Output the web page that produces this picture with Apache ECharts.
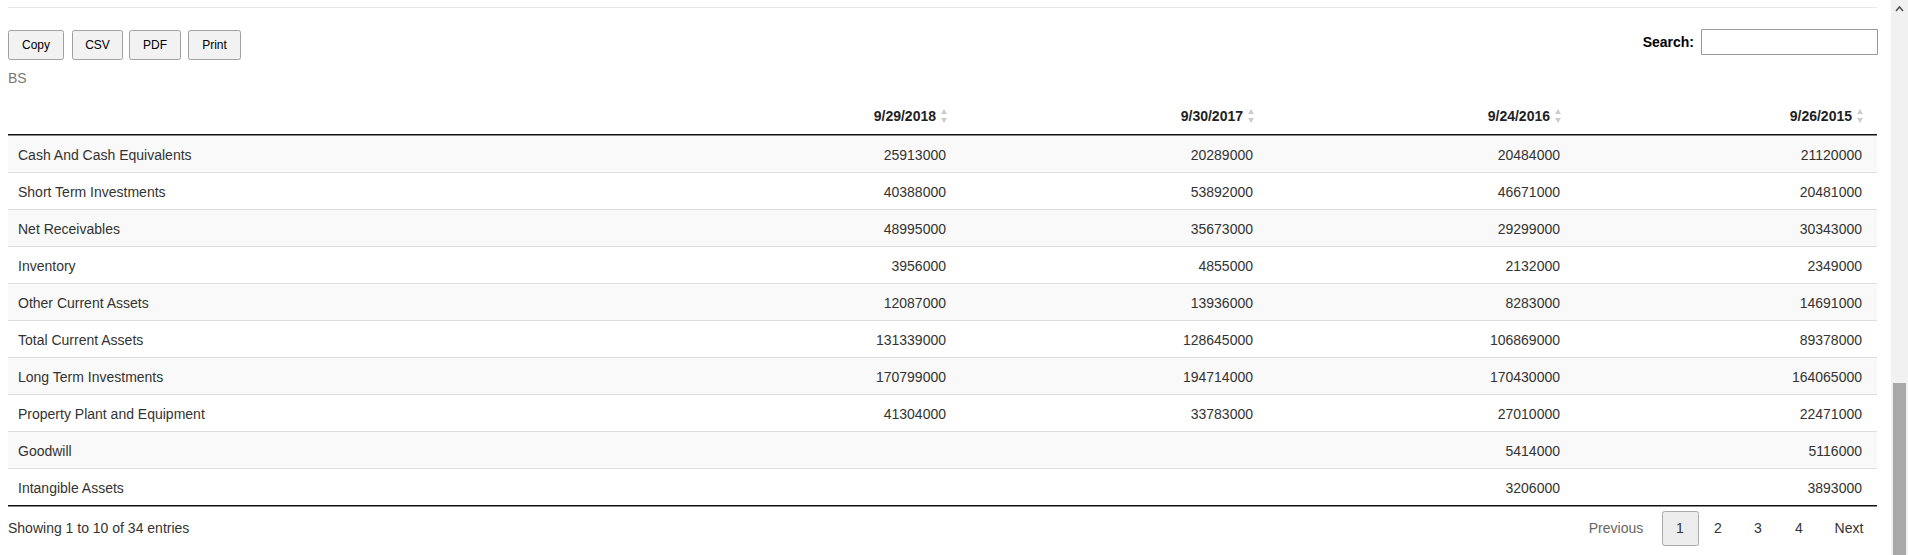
<!DOCTYPE html>
<html><head><meta charset="utf-8">
<script src="https://cdn.jsdelivr.net/npm/echarts@6/dist/echarts.min.js"></script>
<style>html,body{margin:0;padding:0;background:#fff;overflow:hidden}#c{width:1908px;height:555px}</style>
</head><body><div id="c"></div>
<script>
var rowLabels = ['Cash And Cash Equivalents','Short Term Investments','Net Receivables','Inventory','Other Current Assets','Total Current Assets','Long Term Investments','Property Plant and Equipment','Goodwill','Intangible Assets'];
var columns = ['9/29/2018','9/30/2017','9/24/2016','9/26/2015'];
var v2018 = ['25913000','40388000','48995000','3956000','12087000','131339000','170799000','41304000','',''];
var v2017 = ['20289000','53892000','35673000','4855000','13936000','128645000','194714000','33783000','',''];
var v2016 = ['20484000','46671000','29299000','2132000','8283000','106869000','170430000','27010000','5414000','3206000'];
var v2015 = ['21120000','20481000','30343000','2349000','14691000','89378000','164065000','22471000','5116000','3893000'];
var buttons = ['Copy','CSV','PDF','Print'];
var pages = ['1','2','3','4'];

var F = 'Liberation Sans, Arial, sans-serif';
var series = [v2018, v2017, v2016, v2015];
var colRight = [946, 1253, 1560, 1862];
var L = 8, R = 1877, top0 = 135, rh = 37;
var g = [];
g.push({type:'rect',shape:{x:L,y:7,width:R-L,height:1},style:{fill:'#e8e8e8'}});
var bx = [[8,55],[72,50],[129,51],[188,52]];
buttons.forEach(function(b,i){
  g.push({type:'rect',shape:{x:bx[i][0]+0.5,y:30.5,width:bx[i][1],height:29,r:2},style:{fill:'#f2f2f2',stroke:'#a0a0a0',lineWidth:1}});
  g.push({type:'text',x:bx[i][0]+bx[i][1]/2+0.5,y:45,style:{text:b,font:'12px '+F,fill:'#000',align:'center',verticalAlign:'middle'}});
});
g.push({type:'text',x:L,y:78,style:{text:'BS',font:'14px '+F,fill:'#777',verticalAlign:'middle'}});
g.push({type:'text',x:1694,y:42,style:{text:'Search:',font:'bold 14px '+F,fill:'#000',align:'right',verticalAlign:'middle'}});
g.push({type:'rect',shape:{x:1701.5,y:29.5,width:176,height:25},style:{fill:'#fff',stroke:'#999',lineWidth:1}});
columns.forEach(function(c,i){
  g.push({type:'text',x:colRight[i]-10,y:116,style:{text:c,font:'bold 14px '+F,fill:'#222',align:'right',verticalAlign:'middle'}});
  g.push({type:'polygon',shape:{points:[[colRight[i]-5,114],[colRight[i]+1,114],[colRight[i]-2,109]]},style:{fill:'#ccc'}});
  g.push({type:'polygon',shape:{points:[[colRight[i]-5,118],[colRight[i]+1,118],[colRight[i]-2,123]]},style:{fill:'#ccc'}});
});
rowLabels.forEach(function(lab,r){
  var y = top0 + r*rh;
  if(r%2===0) g.push({type:'rect',shape:{x:L,y:y,width:R-L,height:rh},style:{fill:'#f9f9f9'}});
  if(r>0) g.push({type:'rect',shape:{x:L,y:y,width:R-L,height:1},style:{fill:'#ddd'}});
  g.push({type:'text',x:18,y:y+rh/2+1,style:{text:lab,font:'14px '+F,fill:'#333',verticalAlign:'middle'}});
  series.forEach(function(s,i){
    if(s[r]) g.push({type:'text',x:colRight[i],y:y+rh/2+1,style:{text:s[r],font:'14px '+F,fill:'#333',align:'right',verticalAlign:'middle'}});
  });
});
g.push({type:'rect',shape:{x:L,y:top0-1,width:R-L,height:1.5},style:{fill:'#111'}});
g.push({type:'rect',shape:{x:L,y:top0+rh*rowLabels.length,width:R-L,height:1.5},style:{fill:'#111'}});
g.push({type:'text',x:L,y:528,style:{text:'Showing 1 to 10 of 34 entries',font:'14px '+F,fill:'#333',verticalAlign:'middle'}});
g.push({type:'text',x:1616,y:528,style:{text:'Previous',font:'14px '+F,fill:'#666',align:'center',verticalAlign:'middle'}});
g.push({type:'rect',shape:{x:1662.5,y:511.5,width:36,height:34,r:2},style:{fill:'#ededed',stroke:'#aaa',lineWidth:1}});
var px=[1680,1718,1758,1799];
pages.forEach(function(p,i){
  g.push({type:'text',x:px[i],y:528,style:{text:p,font:'14px '+F,fill:'#333',align:'center',verticalAlign:'middle'}});
});
g.push({type:'text',x:1849,y:528,style:{text:'Next',font:'14px '+F,fill:'#333',align:'center',verticalAlign:'middle'}});
g.push({type:'rect',shape:{x:1891,y:0,width:17,height:555},style:{fill:'#f1f1f1'}});
g.push({type:'rect',shape:{x:1893,y:383,width:13,height:172},style:{fill:'#a8a8a8'}});
g.push({type:'polyline',shape:{points:[[1896,11],[1899.5,7],[1903,11]]},style:{stroke:'#505050',lineWidth:1.5,fill:null}});
var chart = echarts.init(document.getElementById('c'),null,{renderer:'svg'});
chart.setOption({animation:false,graphic:{elements:g}});
</script></body></html>
